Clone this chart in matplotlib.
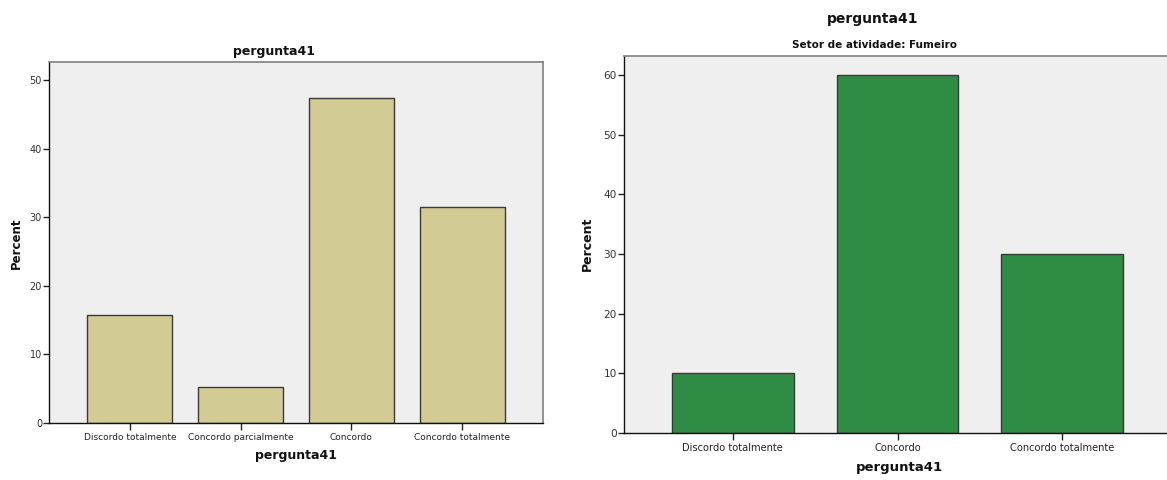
import matplotlib
matplotlib.use("Agg")
import matplotlib.pyplot as plt
import numpy as np

# Overall distribution of answers to question 41
left_categories = ["Discordo totalmente", "Concordo parcialmente", "Concordo", "Concordo totalmente"]
left_percent = [15.8, 5.3, 47.4, 31.6]
left_yticks = [0, 10, 20, 30, 40, 50]

# Answers for the "Fumeiro" activity sector
right_categories = ["Discordo totalmente", "Concordo", "Concordo totalmente"]
right_percent = [10.0, 60.0, 30.0]
right_yticks = [0, 10, 20, 30, 40, 50, 60]

plt.rcParams["font.family"] = ["DejaVu Sans"]

W, H = 1167, 480
fig = plt.figure(figsize=(W / 100, H / 100), dpi=100)
fig.patch.set_facecolor("white")

BG = "#efefef"
TAN = "#d2cc94"
GREEN = "#2f8c45"
EDGE = "#3a3a3a"


def px_axes(x0, y0, x1, y1):
    return fig.add_axes([x0 / W, 1 - y1 / H, (x1 - x0) / W, (y1 - y0) / H])


def px_text(x, y, s, size, **kw):
    fig.text(x / W, 1 - y / H, s, ha="center", va="center",
             fontsize=size, fontweight="bold", color="#111111", **kw)


def style(ax, cats, vals, yticks, ylim, xpad, width, color, tick_fs):
    x = np.arange(len(cats))
    ax.bar(x, vals, width=width, color=color, edgecolor=EDGE, linewidth=1.0, zorder=2)
    ax.set_facecolor(BG)
    ax.set_xlim(-xpad, len(cats) - 1 + xpad)
    ax.set_ylim(*ylim)
    ax.set_xticks(x)
    ax.set_xticklabels(cats, fontsize=tick_fs, color="#222222")
    ax.set_yticks(yticks)
    ax.set_yticklabels([str(t) for t in yticks], fontsize=tick_fs + 0.5, color="#333333")
    ax.tick_params(axis="x", length=5, width=1.0, color="#222222", pad=2)
    ax.tick_params(axis="y", length=4, width=1.0, color="#222222", pad=1)
    for s in ("left", "bottom"):
        ax.spines[s].set_color("#111111")
        ax.spines[s].set_linewidth(1.0)
    for s in ("top", "right"):
        ax.spines[s].set_color("#808080")
        ax.spines[s].set_linewidth(1.2)


# Left chart
axL = px_axes(49, 62, 543, 423)
style(axL, left_categories, left_percent, left_yticks, (0, 52.7), 0.73, 0.765, TAN, 6.5)
px_text(16, 243, "Percent", 8.5, rotation=90)
px_text(296, 455, "pergunta41", 9)
px_text(274, 52, "pergunta41", 9)

# Right chart (extends slightly past the figure's right edge)
axR = px_axes(624, 56, 1171, 433)
style(axR, right_categories, right_percent, right_yticks, (0, 63.2), 0.66, 0.74, GREEN, 7.1)
px_text(587, 244, "Percent", 9, rotation=90)
px_text(873, 19.5, "pergunta41", 10)
px_text(874, 45.5, "Setor de atividade: Fumeiro", 7.5)
px_text(899, 468, "pergunta41", 9.5)

fig.savefig("out.png", dpi=100, facecolor="white")
